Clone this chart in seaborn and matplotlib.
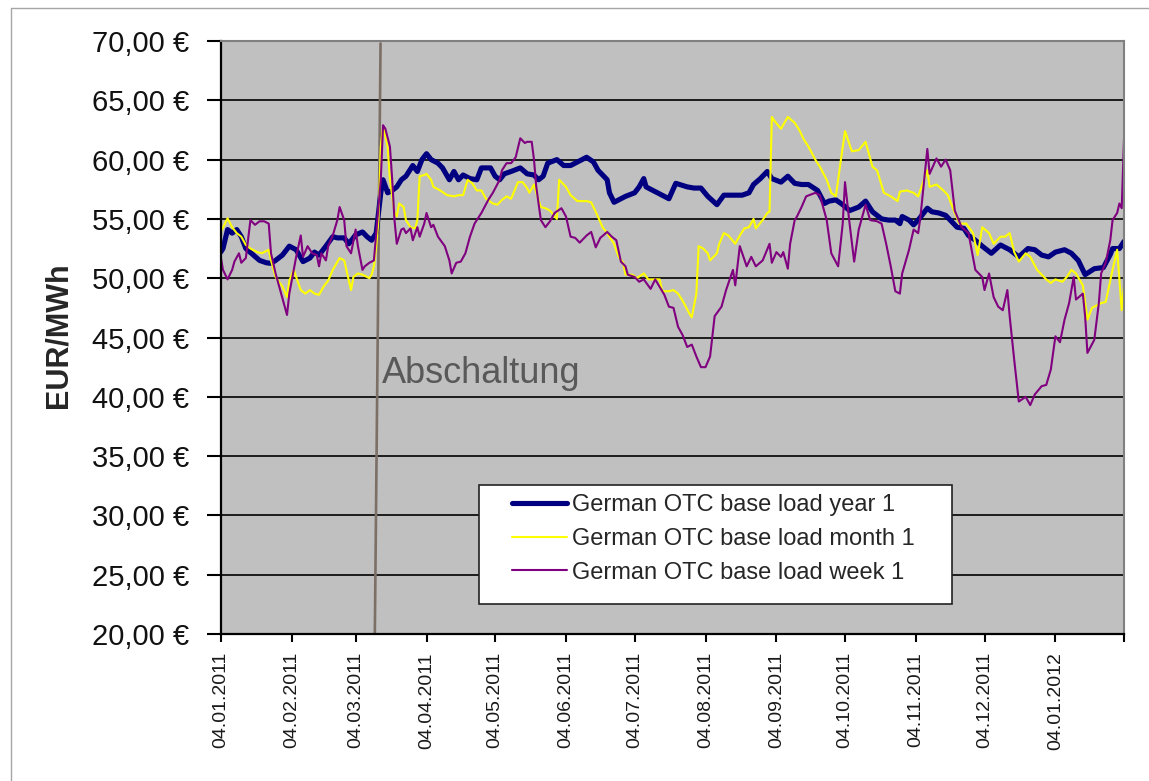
import matplotlib
matplotlib.use("Agg")
import matplotlib.pyplot as plt  # noqa: E402
from matplotlib.lines import Line2D  # noqa: E402
from matplotlib.patches import Rectangle  # noqa: E402
from matplotlib.ticker import FuncFormatter  # noqa: E402
import pandas as pd  # noqa: E402
import seaborn as sns  # noqa: E402

START = pd.Timestamp("2011-01-04")
END = pd.Timestamp("2012-02-03")

# days after 04.01.2011 / EUR per MWh
YEAR_DAYS = [
    0, 1, 3, 5, 7, 9, 11, 14, 17, 20,
    22, 24, 27, 30, 33, 36, 39, 41, 43, 46,
    49, 51, 54, 56, 59, 62, 64, 66, 68, 69,
    70, 71, 73, 75, 77, 79, 81, 84, 86, 88,
    90, 92, 95, 97, 100, 102, 104, 106, 109, 112,
    114, 118, 120, 122, 124, 127, 131, 134, 137, 139,
    141, 143, 147, 150, 153, 156, 160, 163, 165, 169,
    170, 172, 175, 177, 181, 183, 185, 186, 189, 193,
    196, 199, 204, 207, 210, 213, 217, 220, 225, 228,
    231, 233, 236, 239, 241, 245, 248, 251, 254, 257,
    261, 264, 266, 269, 272, 275, 279, 282, 285, 289,
    292, 295, 297, 298, 301, 303, 305, 309, 311, 314,
    317, 319, 322, 325, 327, 330, 333, 337, 341, 345,
    349, 353, 356, 359, 362, 365, 369, 372, 375, 378,
    382, 386, 389, 390, 393, 395,
]
YEAR_EUR = [
    52.2, 52.5, 54.1, 53.8, 54.1, 53.5, 52.5, 52.0, 51.5, 51.3,
    51.25, 51.5, 51.95, 52.7, 52.4, 51.4, 51.7, 52.2, 51.95, 52.7,
    53.5, 53.4, 53.4, 52.9, 53.65, 53.9, 53.5, 53.2, 53.8, 55.5,
    57.2, 58.3, 57.2, 57.4, 57.7, 58.3, 58.6, 59.5, 59.0, 60.0,
    60.5, 60.0, 59.7, 59.3, 58.3, 59.0, 58.3, 58.7, 58.4, 58.3,
    59.3, 59.3, 58.6, 58.3, 58.8, 59.0, 59.3, 58.8, 58.7, 58.3,
    58.6, 59.7, 60.0, 59.5, 59.5, 59.8, 60.2, 59.8, 59.1, 58.3,
    57.2, 56.4, 56.7, 56.9, 57.2, 57.7, 58.4, 57.7, 57.4, 57.0,
    56.7, 58.0, 57.7, 57.6, 57.6, 56.9, 56.2, 57.0, 57.0, 57.0,
    57.2, 57.9, 58.4, 59.0, 58.4, 58.1, 58.6, 58.0, 57.9, 57.9,
    57.4, 56.3, 56.5, 56.6, 56.2, 55.7, 56.0, 56.5, 55.6, 55.0,
    54.9, 54.9, 54.6, 55.2, 54.9, 54.5, 54.9, 55.9, 55.6, 55.5,
    55.3, 54.9, 54.3, 54.2, 53.6, 53.2, 52.7, 52.1, 52.8, 52.4,
    51.8, 52.5, 52.4, 51.95, 51.8, 52.2, 52.4, 52.1, 51.5, 50.3,
    50.8, 50.9, 52.0, 52.5, 52.5, 53.1,
]

MONTH_DAYS = [
    0, 3, 5, 7, 9, 11, 13, 16, 18, 21,
    22, 24, 27, 29, 30, 32, 33, 35, 37, 39,
    41, 43, 45, 47, 49, 52, 54, 57, 58, 60,
    62, 65, 66, 67, 68, 69, 70, 71, 73, 74,
    76, 77, 78, 80, 81, 83, 85, 86, 87, 89,
    90, 92, 93, 96, 99, 102, 104, 106, 108, 110,
    112, 114, 116, 119, 121, 123, 125, 127, 130, 132,
    134, 135, 137, 138, 140, 142, 144, 147, 148, 151,
    153, 156, 160, 162, 164, 167, 169, 172, 174, 176,
    177, 180, 182, 185, 187, 189, 192, 193, 196, 198,
    200, 202, 205, 206, 208, 209, 211, 213, 214, 217,
    218, 220, 222, 225, 227, 229, 231, 233, 234, 237,
    239, 240, 241, 242, 245, 248, 251, 253, 255, 257,
    260, 262, 265, 267, 269, 271, 273, 276, 279, 282,
    285, 287, 290, 293, 296, 297, 300, 303, 305, 309,
    310, 313, 316, 318, 321, 323, 326, 329, 331, 333,
    336, 338, 341, 343, 345, 347, 349, 352, 354, 357,
    361, 363, 365, 368, 370, 372, 374, 377, 379, 381,
    385, 387, 390, 392, 394, 395,
]
MONTH_EUR = [
    53.9, 55.05, 54.3, 53.8, 53.5, 52.8, 52.5, 52.2, 52.1, 52.4,
    51.5, 50.1, 49.3, 48.4, 49.8, 50.7, 50.1, 49.0, 48.7, 49.0,
    48.7, 48.6, 49.3, 49.8, 50.7, 51.7, 51.5, 49.0, 50.1, 50.4,
    50.3, 50.0, 50.3, 51.0, 52.7, 54.9, 61.1, 62.8, 61.1, 58.3,
    55.5, 55.2, 56.3, 56.0, 54.9, 54.3, 54.2, 54.9, 58.6, 58.7,
    58.8, 58.3, 57.7, 57.4, 57.0, 56.9, 57.0, 57.0, 58.3, 58.0,
    57.4, 57.4, 56.7, 56.3, 56.2, 56.6, 56.9, 56.7, 58.1, 58.1,
    57.6, 57.2, 57.9, 57.2, 56.0, 55.9, 55.7, 55.0, 58.3, 57.7,
    57.0, 56.5, 56.5, 56.4, 55.6, 54.3, 53.8, 52.9, 51.8, 51.3,
    50.3, 50.3, 50.0, 50.4, 49.9, 49.9, 49.9, 48.9, 48.9, 49.0,
    48.7, 48.1, 47.0, 46.7, 48.7, 52.7, 52.5, 52.1, 51.5, 52.1,
    52.9, 53.8, 53.6, 52.9, 53.6, 54.2, 54.3, 55.0, 54.2, 54.9,
    55.5, 55.6, 63.6, 63.3, 62.6, 63.6, 63.1, 62.5, 61.7, 61.1,
    60.0, 59.4, 58.3, 57.2, 56.9, 59.7, 62.4, 60.7, 60.8, 61.5,
    59.4, 59.1, 57.2, 56.9, 56.5, 57.3, 57.4, 57.2, 56.9, 59.1,
    57.7, 57.9, 57.4, 57.0, 55.5, 54.6, 54.6, 53.8, 51.95, 54.3,
    53.8, 52.9, 53.5, 53.5, 53.8, 52.2, 51.4, 52.1, 51.8, 50.7,
    49.9, 49.6, 49.9, 49.7, 50.1, 50.7, 50.4, 49.4, 46.5, 47.5,
    47.9, 48.0, 50.7, 52.4, 47.3, 49.4,
]

WEEK_DAYS = [
    0, 1, 3, 5, 6, 8, 9, 11, 13, 15,
    17, 19, 21, 22, 24, 26, 29, 30, 33, 35,
    36, 38, 40, 42, 43, 44, 46, 47, 49, 51,
    52, 54, 55, 57, 59, 60, 62, 63, 65, 67,
    68, 70, 71, 72, 74, 75, 76, 77, 79, 80,
    81, 83, 84, 86, 87, 89, 90, 92, 93, 95,
    98, 100, 101, 103, 105, 107, 109, 111, 114, 117,
    119, 122, 123, 125, 127, 129, 131, 133, 134, 136,
    137, 138, 140, 142, 144, 146, 149, 151, 153, 155,
    157, 160, 162, 164, 166, 169, 171, 173, 175, 177,
    178, 181, 183, 185, 188, 190, 194, 196, 198, 200,
    202, 204, 206, 208, 210, 212, 214, 216, 219, 221,
    224, 225, 227, 230, 232, 234, 237, 240, 241, 243,
    245, 246, 248, 249, 251, 252, 254, 256, 260, 262,
    265, 267, 270, 272, 273, 275, 277, 279, 282, 284,
    287, 289, 291, 293, 295, 297, 298, 301, 303, 305,
    306, 309, 310, 313, 315, 317, 319, 321, 324, 327,
    330, 333, 334, 336, 338, 340, 342, 344, 345, 347,
    349, 352, 354, 356, 359, 361, 363, 365, 367, 369,
    371, 373, 374, 377, 378, 379, 382, 384, 385, 387,
    389, 390, 392, 393, 394, 395,
]
WEEK_EUR = [
    51.8, 50.7, 49.9, 50.7, 51.4, 52.1, 51.3, 51.7, 54.9, 54.5,
    54.8, 54.8, 54.6, 52.1, 50.4, 49.0, 46.9, 48.7, 51.8, 53.6,
    51.8, 52.7, 52.1, 51.95, 51.0, 52.1, 51.5, 52.7, 53.6, 54.9,
    56.0, 54.9, 52.7, 52.1, 54.1, 52.7, 50.7, 51.0, 51.3, 51.5,
    53.8, 58.3, 62.9, 62.6, 61.1, 58.3, 54.9, 52.9, 54.1, 54.2,
    53.8, 54.2, 53.2, 54.3, 53.5, 54.6, 55.5, 54.3, 54.5, 53.5,
    52.7, 51.5, 50.4, 51.3, 51.4, 52.1, 53.5, 54.6, 55.5, 56.6,
    57.2, 58.3, 59.1, 59.7, 59.7, 60.2, 61.8, 61.4, 61.5, 61.5,
    60.0, 57.7, 54.9, 54.3, 54.8, 55.5, 55.9, 55.2, 53.5, 53.4,
    53.0, 53.6, 53.9, 52.6, 53.4, 53.9, 53.5, 53.2, 51.4, 51.0,
    50.3, 50.1, 49.7, 49.9, 49.1, 49.9, 48.6, 47.6, 47.5, 45.9,
    45.2, 44.2, 44.4, 43.4, 42.5, 42.5, 43.4, 46.8, 47.6, 49.0,
    50.7, 49.4, 52.7, 51.0, 51.8, 51.0, 51.5, 52.9, 51.3, 52.2,
    51.8, 52.2, 50.8, 52.9, 54.9, 55.2, 56.0, 56.9, 57.2, 57.0,
    54.9, 52.1, 51.0, 54.6, 58.1, 54.6, 51.4, 54.1, 56.2, 54.9,
    54.8, 54.6, 52.9, 51.0, 48.9, 48.7, 50.4, 52.4, 54.1, 53.8,
    55.2, 60.9, 58.8, 60.1, 59.4, 60.0, 59.1, 55.7, 54.3, 53.8,
    50.7, 50.1, 49.0, 50.4, 48.4, 47.6, 47.3, 49.0, 46.8, 43.1,
    39.6, 40.0, 39.3, 40.2, 40.9, 41.0, 42.3, 45.1, 44.6, 46.5,
    47.9, 50.1, 48.2, 48.7, 46.8, 43.7, 44.8, 47.9, 50.4, 51.3,
    53.2, 54.9, 55.5, 56.3, 55.9, 61.7,
]

SERIES_NAMES = [
    "German OTC base load year 1",
    "German OTC base load month 1",
    "German OTC base load week 1",
]
SERIES_COLORS = ["#000080", "#ffff00", "#800080"]
SERIES_WIDTHS = [3.7, 1.5, 1.5]

TICK_LABELS = [
    "04.01.2011", "04.02.2011", "04.03.2011", "04.04.2011", "04.05.2011",
    "04.06.2011", "04.07.2011", "04.08.2011", "04.09.2011", "04.10.2011",
    "04.11.2011", "04.12.2011", "04.01.2012",
]
Y_TICKS = [20, 25, 30, 35, 40, 45, 50, 55, 60, 65, 70]

# the shutdown marker (slightly slanted in the original)
SHUTDOWN_DAYS = (67.4, 69.9)
SHUTDOWN_LABEL = "Abschaltung"


def to_frame(days, values, name):
    return pd.DataFrame({
        "date": START + pd.to_timedelta(days, unit="D"),
        "eur": values,
        "series": name,
    })


df = pd.concat([
    to_frame(YEAR_DAYS, YEAR_EUR, SERIES_NAMES[0]),
    to_frame(MONTH_DAYS, MONTH_EUR, SERIES_NAMES[1]),
    to_frame(WEEK_DAYS, WEEK_EUR, SERIES_NAMES[2]),
], ignore_index=True)

sns.set_theme(style="ticks")
plt.rcParams["font.family"] = ["Liberation Sans", "DejaVu Sans"]

W, H = 1149, 781
fig = plt.figure(figsize=(W / 100, H / 100), dpi=100)
fig.patch.set_facecolor("white")
ax = fig.add_axes([220.7 / W, 1 - 634 / H, 903.3 / W, 593 / H])
ax.set_facecolor("#c0c0c0")

# shutdown line
ax.plot([START + pd.Timedelta(days=SHUTDOWN_DAYS[0]),
         START + pd.Timedelta(days=SHUTDOWN_DAYS[1])],
        [20, 69.8], color="#7b6f66", lw=1.9, zorder=1.5)

for name, color, lw in zip(SERIES_NAMES, SERIES_COLORS, SERIES_WIDTHS):
    sub = df[df["series"] == name]
    sns.lineplot(data=sub, x="date", y="eur", color=color, lw=lw,
                 label=name, ax=ax, sort=False, zorder=2)

ax.text(START + pd.Timedelta(days=70.5), 41.16, SHUTDOWN_LABEL,
        fontsize=26, color="#595959", ha="left", va="baseline", zorder=3)

ax.set_xlim(START, END)
ax.set_ylim(20, 70)
ax.set_yticks(Y_TICKS)
ax.yaxis.set_major_formatter(
    FuncFormatter(lambda v, _: f"{v:.2f}".replace(".", ",") + " €"))
tick_dates = [pd.to_datetime(t, format="%d.%m.%Y") for t in TICK_LABELS]
ax.set_xticks(tick_dates + [END])
ax.set_xticklabels(TICK_LABELS + [""])
ax.tick_params(axis="x", labelsize=14, rotation=90, length=6, width=1.5,
               pad=7, color="black", labelcolor="#1a1a1a")
ax.tick_params(axis="y", labelsize=21, length=10, width=1.5, pad=13,
               color="black", labelcolor="#111111")
ax.set_xlabel("")
ax.set_ylabel("")

ax.set_axisbelow(True)
ax.grid(axis="y", color="#1c1c1c", lw=1.4)
ax.grid(axis="x", visible=False)
for side in ("left", "bottom"):
    ax.spines[side].set_color("black")
    ax.spines[side].set_linewidth(1.6)
for side in ("top", "right"):
    ax.spines[side].set_color("#808080")
    ax.spines[side].set_linewidth(1.5)

# legend box
ax.add_patch(Rectangle((0.286, 0.0506), 0.5236, 0.2007, transform=ax.transAxes,
                       facecolor="white", edgecolor="#222222", lw=1.2, zorder=5))
leg = ax.legend(loc="upper left", bbox_to_anchor=(0.3222, 0.2361),
                frameon=False, fontsize=17, handlelength=2.33,
                handletextpad=0.21, labelspacing=0.5, borderpad=0,
                borderaxespad=0)
leg.set_zorder(6)

fig.text(58.5 / W, 1 - 335 / H, "EUR/MWh", rotation=90, fontsize=22,
         fontweight="bold", ha="center", va="center")

# outer chart frame (left and top edges are visible)
fig.add_artist(Line2D([11 / W, 11 / W], [0, 1 - 8 / H],
                      transform=fig.transFigure, color="#a6a6a6", lw=1))
fig.add_artist(Line2D([11 / W, 1], [1 - 8 / H, 1 - 8 / H],
                      transform=fig.transFigure, color="#a6a6a6", lw=1))

fig.savefig("out.png", dpi=100)
plt.close(fig)
